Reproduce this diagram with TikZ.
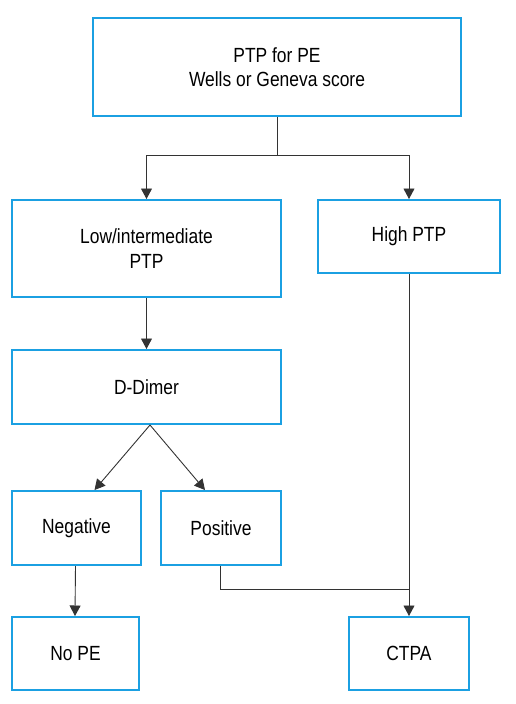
\documentclass[tikz,border=0pt]{standalone}
\usepackage{fontspec}
\setmainfont{Liberation Sans}[FakeStretch=0.85]
\usetikzlibrary{arrows.meta,calc}
\definecolor{boxblue}{HTML}{1BA0E2}
\tikzset{
  flowbox/.style={draw=boxblue, line width=2pt, fill=white, rectangle, align=center,
    inner sep=0pt, font=\fontsize{20.5}{24.5}\selectfont},
  conn/.style={draw=black!80, line width=0.9pt},
  arr/.style={conn, -{Triangle[width=11pt,length=10.5pt]}},
}
\begin{document}
\begin{tikzpicture}[x=1pt,y=-1pt]
\useasboundingbox (0,0) rectangle (515,704);
\node[flowbox, minimum width=368pt, minimum height=98pt] (top) at (277,67) {PTP for PE\\Wells or Geneva score};
\node[flowbox, minimum width=269pt, minimum height=97pt] (low) at (146.5,248.5) {Low/intermediate\\PTP};
\node[flowbox, minimum width=182pt, minimum height=73pt] (high) at (409,236.5) {High PTP};
\node[flowbox, minimum width=269pt, minimum height=74pt] (dd) at (146.5,387) {D-Dimer};
\node[flowbox, minimum width=129pt, minimum height=74pt] (neg) at (76.5,528) {Negative};
\node[flowbox, minimum width=120pt, minimum height=74pt] (pos) at (221,528) {Positive};
\node[flowbox, minimum width=127pt, minimum height=73pt] (nope) at (75.5,653.5) {No PE};
\node[flowbox, minimum width=120pt, minimum height=73pt] (ctpa) at (409,653.5) {CTPA};
\coordinate (split) at (277,155);
\coordinate (join) at (409,589);
\draw[conn] (top.south) -- (split);
\draw[arr] (split) -| (low.north);
\draw[arr] (split) -| (high.north);
\draw[arr] (low.south) -- (dd.north);
\draw[arr] ([xshift=3.5pt]dd.south) -- ([xshift=18pt]neg.north);
\draw[arr] ([xshift=3.5pt]dd.south) -- ([xshift=-16pt]pos.north);
\draw[arr] ([xshift=-1pt]neg.south) -- ([xshift=-0.5pt]nope.north);
\draw[arr] (high.south) -- (ctpa.north);
\draw[conn] ([xshift=-1pt]pos.south) |- (join);
\end{tikzpicture}
\end{document}
